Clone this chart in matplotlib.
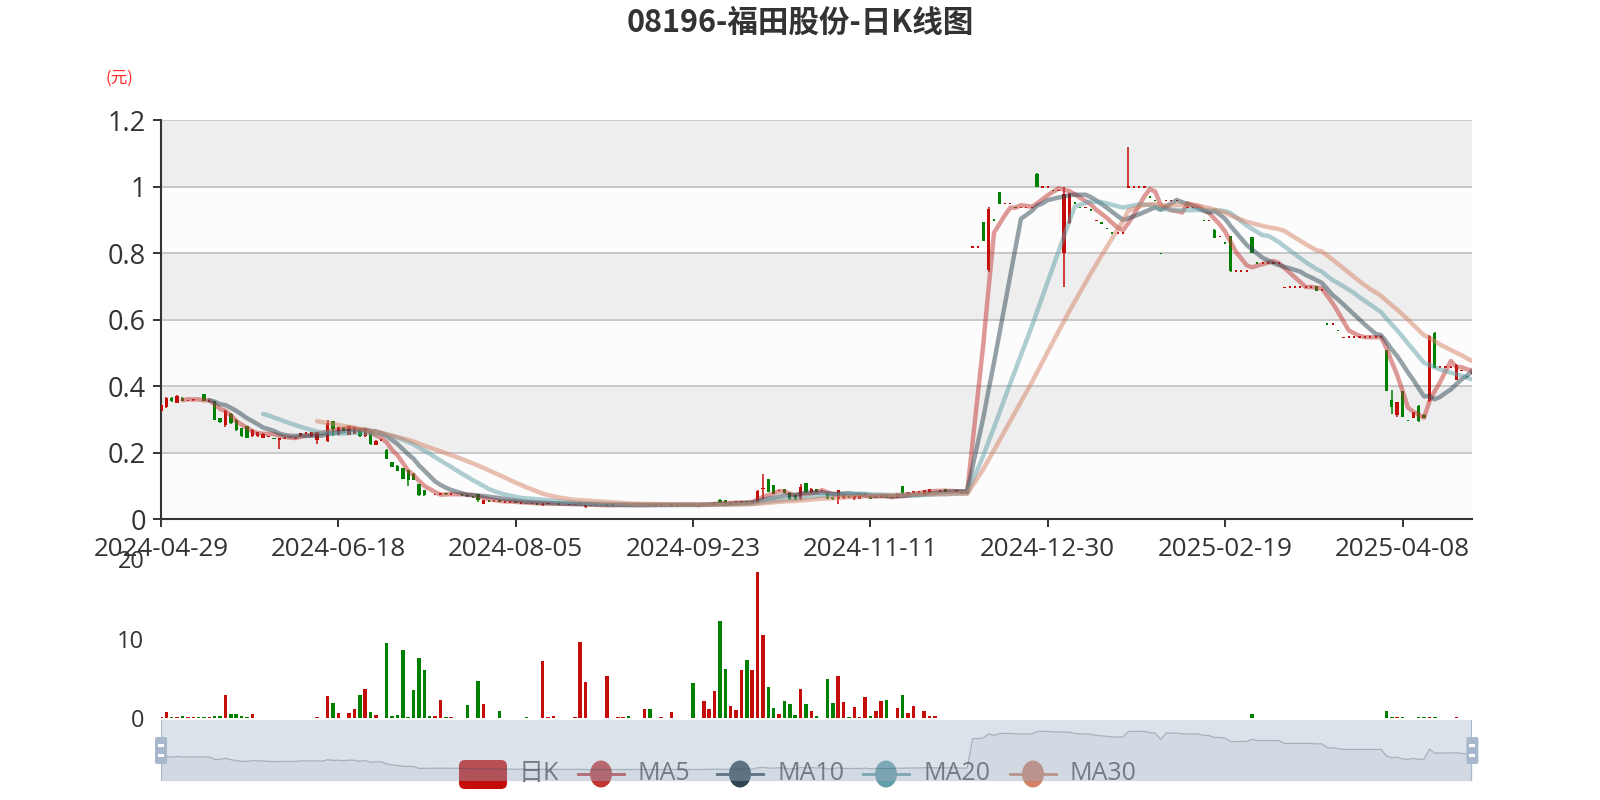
import numpy as np
import pandas as pd
import matplotlib
matplotlib.use('Agg')
import matplotlib.pyplot as plt
from matplotlib.patches import FancyBboxPatch, Ellipse, Rectangle
from matplotlib.lines import Line2D
from matplotlib.transforms import Affine2D
from matplotlib.ticker import FuncFormatter

plt.rcParams['font.family'] = ['Open Sans', 'Noto Sans CJK SC', 'DejaVu Sans']

title = '08196-福田股份-日K线图'
tick_labels = ['2024-04-29', '2024-06-18', '2024-08-05', '2024-09-23',
               '2024-11-11', '2024-12-30', '2025-02-19', '2025-04-08']
label_step = 33
y_ticks = [0, 0.2, 0.4, 0.6, 0.8, 1.0, 1.2]
vol_ticks = [0, 10, 20]
ma_periods = [5, 10, 20, 30]
ma_colors = ['#c23531', '#2f4554', '#61a0a8', '#d48265']
up_color = '#c40c08'
down_color = '#008000'

# daily prices (HKD), one entry per trading day
opens = [
    .326, .338, .366, .350, .366, .358, .358, .357, .376, .357,
    .356, .305, .285, .318, .300, .275, .280, .250, .250, .246,
    .248, .246, .240, .243, .246, .243, .252, .260, .250, .240,
    .256, .235, .295, .255, .277, .255, .258, .270, .250, .265,
    .225, .238, .210, .172, .162, .155, .148, .138, .106, .088,
    .076, .075, .074, .080, .076, .076, .074, .074, .068, .075,
    .047, .055, .054, .057, .053, .053, .054, .050, .050, .048,
    .047, .042, .047, .046, .046, .046, .045, .044, .043, .037,
    .042, .042, .042, .040, .043, .043, .043, .044, .043, .042,
    .043, .045, .043, .044, .044, .040, .044, .044, .044, .046,
    .038, .044, .045, .043, .059, .057, .045, .049, .050, .055,
    .050, .050, .090, .122, .102, .087, .090, .080, .072, .060,
    .108, .081, .092, .087, .077, .067, .060, .065, .068, .062,
    .062, .077, .070, .065, .065, .072, .064, .064, .099, .073,
    .082, .082, .073, .080, .084, .085, .090, .084, .085, .080,
    .080, .820, .820, .894, .750, .900, .985, .950, .950, .938,
    .938, .938, .938, 1.040, 1.000, 1.000, .989, .989, .800, .890,
    .951, .938, .938, .930, .897, .891, .875, .861, .861, .861,
    1.000, 1.000, 1.000, 1.000, .969, .959, .800, .959, .959, .959,
    .936, .938, .938, .938, .899, .899, .871, .851, .831, .851,
    .748, .748, .748, .849, .771, .771, .771, .771, .771, .697,
    .699, .699, .699, .699, .699, .701, .689, .588, .588, .568,
    .546, .548, .548, .548, .548, .548, .548, .548, .508, .360,
    .315, .386, .297, .305, .342, .315, .355, .560, .458, .458,
    .458, .420, .445, .428, .440,
]
closes = [
    .343, .366, .355, .372, .357, .358, .362, .356, .357, .357,
    .300, .292, .326, .290, .268, .250, .246, .270, .263, .258,
    .250, .242, .245, .246, .246, .245, .260, .260, .262, .262,
    .253, .290, .272, .277, .266, .280, .276, .250, .272, .227,
    .237, .238, .183, .159, .147, .122, .120, .118, .072, .072,
    .075, .075, .078, .075, .076, .075, .074, .069, .068, .057,
    .057, .055, .056, .052, .053, .053, .049, .050, .048, .048,
    .047, .047, .048, .047, .046, .045, .045, .046, .047, .042,
    .042, .042, .042, .044, .043, .044, .044, .043, .042, .044,
    .045, .043, .043, .044, .043, .046, .044, .044, .044, .043,
    .042, .047, .048, .052, .050, .045, .052, .053, .054, .050,
    .054, .085, .095, .082, .077, .087, .080, .060, .059, .097,
    .082, .092, .082, .087, .062, .060, .088, .072, .068, .070,
    .070, .077, .062, .070, .072, .064, .067, .077, .073, .082,
    .082, .082, .088, .090, .085, .085, .083, .085, .085, .080,
    .080, .820, .820, .837, .935, .900, .950, .950, .950, .938,
    .938, .938, .938, 1.000, 1.000, 1.000, .989, .989, .980, .980,
    .951, .938, .938, .930, .899, .891, .875, .861, .861, .861,
    1.000, 1.000, 1.000, 1.000, .969, .959, .800, .959, .959, .959,
    .938, .938, .938, .938, .899, .899, .847, .851, .831, .746,
    .748, .748, .748, .801, .771, .771, .771, .771, .771, .699,
    .699, .699, .699, .699, .699, .687, .689, .588, .588, .568,
    .548, .548, .548, .548, .548, .548, .548, .548, .386, .338,
    .353, .309, .297, .322, .295, .305, .553, .455, .458, .458,
    .458, .465, .448, .428, .440,
]
highs = [
    .346, .368, .367, .374, .367, .358, .362, .357, .378, .357,
    .357, .306, .328, .319, .301, .276, .281, .271, .264, .259,
    .251, .246, .246, .247, .246, .245, .261, .260, .263, .263,
    .256, .298, .296, .278, .278, .281, .277, .271, .273, .266,
    .238, .238, .211, .173, .163, .156, .149, .139, .107, .089,
    .076, .075, .079, .080, .076, .076, .074, .075, .068, .077,
    .058, .055, .057, .058, .053, .053, .055, .050, .050, .048,
    .047, .048, .048, .047, .046, .046, .045, .046, .048, .043,
    .042, .042, .042, .045, .043, .044, .044, .044, .043, .044,
    .046, .045, .043, .044, .044, .047, .044, .044, .044, .046,
    .042, .048, .049, .053, .060, .058, .053, .054, .055, .056,
    .055, .087, .137, .123, .103, .087, .091, .081, .073, .107,
    .109, .095, .092, .087, .078, .068, .089, .073, .068, .071,
    .071, .077, .071, .071, .073, .073, .068, .078, .100, .083,
    .082, .082, .089, .091, .085, .085, .090, .085, .085, .080,
    .080, .820, .820, .895, .940, .900, .986, .950, .950, .938,
    .938, .938, .938, 1.042, 1.000, 1.000, .989, .989, 1.000, .981,
    .951, .938, .938, .930, .899, .891, .875, .861, .861, .861,
    1.120, 1.000, 1.000, 1.000, .969, .959, .800, .959, .959, .959,
    .938, .938, .938, .938, .899, .899, .872, .851, .831, .852,
    .748, .748, .748, .850, .771, .771, .771, .771, .771, .699,
    .699, .699, .699, .699, .699, .702, .689, .588, .588, .568,
    .548, .548, .548, .548, .548, .548, .548, .548, .510, .388,
    .354, .387, .297, .323, .343, .316, .555, .565, .458, .458,
    .458, .468, .448, .428, .440,
]
lows = [
    .324, .336, .353, .349, .356, .358, .357, .356, .356, .357,
    .298, .290, .278, .288, .266, .249, .245, .249, .249, .245,
    .247, .241, .213, .242, .246, .243, .251, .260, .249, .228,
    .253, .232, .250, .254, .265, .254, .257, .249, .249, .225,
    .224, .238, .182, .158, .146, .121, .099, .117, .071, .071,
    .075, .075, .073, .074, .076, .075, .074, .068, .068, .052,
    .046, .055, .053, .051, .053, .053, .048, .050, .047, .048,
    .047, .039, .046, .045, .046, .045, .045, .043, .042, .034,
    .042, .042, .042, .039, .043, .043, .043, .043, .042, .042,
    .042, .042, .043, .044, .043, .037, .044, .044, .044, .042,
    .036, .043, .044, .042, .049, .040, .044, .048, .049, .049,
    .048, .049, .062, .081, .076, .087, .079, .058, .058, .059,
    .080, .080, .081, .087, .061, .059, .047, .062, .068, .059,
    .061, .077, .061, .064, .064, .063, .063, .063, .072, .072,
    .082, .082, .072, .079, .084, .085, .082, .084, .085, .080,
    .080, .820, .820, .836, .745, .900, .949, .950, .950, .938,
    .938, .938, .938, .999, 1.000, 1.000, .989, .989, .700, .888,
    .951, .938, .938, .930, .897, .891, .875, .861, .861, .861,
    1.000, 1.000, 1.000, 1.000, .969, .959, .800, .959, .959, .959,
    .936, .938, .938, .938, .899, .899, .846, .851, .831, .745,
    .748, .748, .748, .800, .771, .771, .771, .771, .771, .697,
    .699, .699, .699, .699, .699, .686, .689, .588, .588, .568,
    .546, .548, .548, .548, .548, .548, .548, .548, .385, .317,
    .309, .308, .297, .304, .294, .304, .354, .454, .458, .458,
    .458, .419, .445, .428, .440,
]
# volume (millions of shares)
volumes = [
    .17, .75, .10, .10, .20, .10, .10, .10, .10, .10,
    .20, .30, 2.9, .47, .47, .20, .10, .50, .05, .05,
    0, 0, 0, 0, 0, 0, 0, 0, 0, .10,
    0, 2.8, 1.85, .60, 0, .60, 1.1, 2.95, 3.6, .70,
    .40, .05, 9.4, .20, .40, 8.5, .15, 3.5, 7.6, 6.1,
    .20, .20, 2.3, .15, .10, 0, 0, 1.65, 0, 4.6,
    1.7, 0, 0, .90, .05, 0, 0, 0, .15, 0,
    0, 7.2, .10, .20, 0, 0, 0, .10, 9.6, 4.5,
    0, 0, 0, 5.3, 0, .10, .10, .30, 0, 0,
    1.1, 1.1, .05, .10, 0, .75, 0, 0, 0, 4.4,
    0, 2.1, 1.1, 3.4, 12.2, 6.2, 1.5, 1.0, 6.1, 7.3,
    6.0, 18.4, 10.4, 3.9, 1.2, .50, 2.2, 1.8, .40, 3.6,
    1.8, .90, .20, 0, 4.9, 1.9, 5.3, 2.0, .10, 1.4,
    .10, 2.7, .30, .90, 2.1, 2.3, 0, 1.3, 2.9, .60,
    1.5, 0, .90, .20, .20, .05, 0, 0, 0, 0,
    0, 0, 0, 0, 0, 0, 0, 0, 0, 0,
    0, 0, 0, 0, 0, 0, 0, 0, 0, 0,
    0, 0, 0, 0, 0, 0, 0, 0, 0, 0,
    0, 0, 0, 0, 0, 0, 0, 0, 0, 0,
    0, 0, 0, 0, 0, 0, 0, 0, 0, 0,
    0, 0, 0, .50, 0, 0, 0, 0, 0, 0,
    0, 0, 0, 0, 0, 0, 0, 0, 0, 0,
    0, 0, 0, 0, 0, 0, 0, 0, .90, .10,
    .10, .10, 0, .05, .10, .10, .10, .15, 0, 0,
    0, .10, 0, .05, 0,
]

o = np.array(opens)
c = np.array(closes)
n = len(c)
x = np.arange(n)
prev_c = np.r_[c[0], c[:-1]]
up = (c > o) | ((c == o) & (c >= prev_c))
colors = np.where(up, up_color, down_color)
doji = c == o

W, H = 1600, 800
fig = plt.figure(figsize=(16, 8), dpi=100)


def box(l, t, r, b):
    return [l / W, 1 - b / H, (r - l) / W, (b - t) / H]


ax = fig.add_axes(box(161, 120.4, 1472.4, 519.4))
vax = fig.add_axes(box(161, 559, 1472.4, 718))
sax = fig.add_axes(box(161, 720, 1472.4, 781), zorder=10)

# --- price panel
ax.set_xlim(0, n - 1)
ax.set_ylim(y_ticks[0], y_ticks[-1])
for k, (a, b) in enumerate(zip(y_ticks[:-1], y_ticks[1:])):
    ax.axhspan(a, b, color=['#fcfcfc', '#eeeeee'][k % 2], lw=0, zorder=0)
ax.set_yticks(y_ticks)
ax.yaxis.set_major_formatter(FuncFormatter(lambda v, p: f'{v:g}'))
ax.yaxis.grid(True, color='#c8c8c8', lw=1.4)
ax.set_axisbelow(True)
ax.set_xticks(x[::label_step])
ax.set_xticklabels(tick_labels)
for s in ['top', 'right']:
    ax.spines[s].set_visible(False)
for s in ['left', 'bottom']:
    ax.spines[s].set_color('#333333')
    ax.spines[s].set_linewidth(1.5)
ax.tick_params(length=6, width=1.4, color='#333333', labelcolor='#333333')
ax.tick_params(axis='y', pad=5, labelsize=19.5)
ax.tick_params(axis='x', pad=7, labelsize=18.7)

body_bottom = np.minimum(o, c) - np.where(doji, 0.0025, 0)
body_height = np.where(doji, 0.005, np.abs(c - o))
ax.vlines(x, lows, highs, colors=colors, lw=1.1, zorder=3)
ax.bar(x, body_height, bottom=body_bottom, width=np.where(doji, 0.4, 0.62),
       color=colors, lw=0, zorder=3)

close_s = pd.Series(closes)
for p, col in zip(ma_periods, ma_colors):
    ax.plot(x, close_s.rolling(p).mean(), color=col, alpha=0.5, lw=3.2,
            solid_capstyle='round', solid_joinstyle='round', zorder=4)

# --- volume panel
vax.bar(x, volumes, width=0.65, color=colors, lw=0)
vax.set_xlim(0, n - 1)
vax.set_ylim(vol_ticks[0], vol_ticks[-1])
vax.set_yticks(vol_ticks)
vax.set_xticks([])
for s in vax.spines.values():
    s.set_visible(False)
vax.tick_params(axis='y', length=0, labelsize=17, labelcolor='#333333', pad=12)
vax.patch.set_alpha(0)

# --- data zoom slider
pad = 0.3 * (c.max() - c.min())
lo, hi = c.min() - pad, c.max() + pad
sax.set_xlim(0, n - 1)
sax.set_ylim(lo, hi)
sax.fill_between(x, lo, c, color='#2f4554', alpha=0.07, lw=0)
sax.plot(x, c, color='#2f4554', alpha=0.3, lw=0.9)
sax.add_patch(Rectangle((0, 0), 1, 1, transform=sax.transAxes,
                        color=(167 / 255, 183 / 255, 204 / 255), alpha=0.4, lw=0))
sax.set_facecolor('none')
sax.set_xticks([])
sax.set_yticks([])
for s in sax.spines.values():
    s.set_visible(False)
for edge in [0, 1]:
    sax.axvline(edge * (n - 1), color='#a7b7cc', lw=1.6)

px = Affine2D().scale(1 / W, 1 / H) + fig.transFigure
for hx in [161, 1472.4]:
    fig.add_artist(FancyBboxPatch((hx - 6, H - 764), 12, 27,
                                  boxstyle='round,pad=0,rounding_size=2',
                                  fc='#a7b7cc', ec='none', transform=px, zorder=11))
    for gy in [H - 745, H - 755]:
        fig.add_artist(Rectangle((hx - 3, gy - 1.5), 6, 3, fc='white', ec='none',
                                 transform=px, zorder=12))

# --- legend (drawn under the slider, as in the original)
leg_y = H - 774
leg_left = [459, 578, 717, 863, 1010]
leg_names = ['日K'] + [f'MA{p}' for p in ma_periods]
fig.add_artist(FancyBboxPatch((leg_left[0], H - 789), 48, 29,
                              boxstyle='round,pad=0,rounding_size=6',
                              fc=up_color, ec='none', transform=px, zorder=1))
for lx, col in zip(leg_left[1:], ma_colors):
    fig.add_artist(Line2D([lx, lx + 46], [leg_y, leg_y], color=col, lw=2,
                          transform=px, zorder=2))
    fig.add_artist(Ellipse((lx + 23, leg_y), 22, 27, fc=col, ec='none',
                           transform=px, zorder=2))
for lx, name in zip(leg_left, leg_names):
    fig.text((lx + 60) / W, leg_y / H, name, fontsize=18, color='#555555',
             ha='left', va='center', zorder=3)

# --- titles
fig.text(0.5, 1 - 23 / H, title, ha='center', va='center', fontsize=22,
         fontweight='bold', color='#333333', family=['Noto Sans CJK SC'])
fig.text(119.5 / W, 1 - 78.6 / H, '(元)', ha='center', va='center', fontsize=12,
         color='#ff2a2a', family=['Noto Sans CJK SC', 'DejaVu Sans'])

fig.savefig('out.png', dpi=100, facecolor='white')
